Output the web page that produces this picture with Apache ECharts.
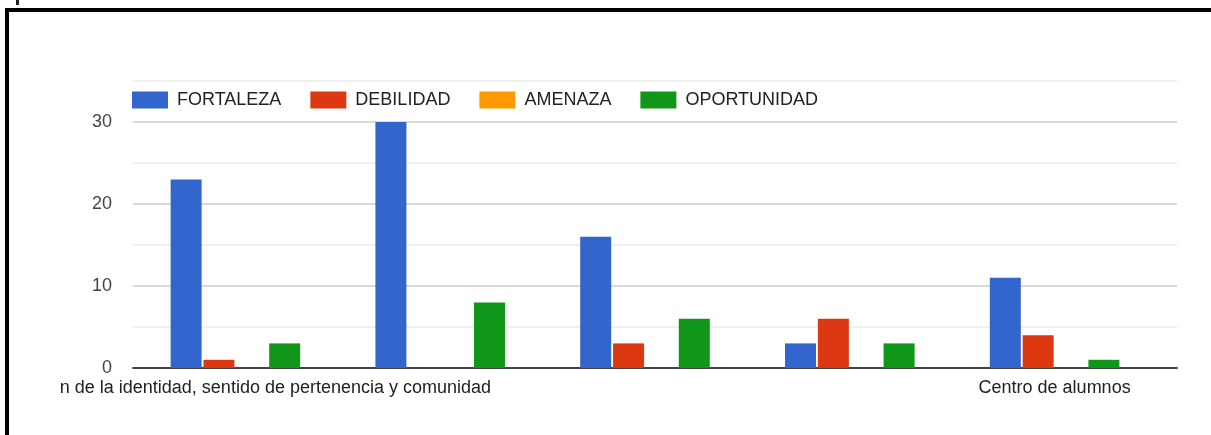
<!DOCTYPE html>
<html>
<head>
<meta charset="utf-8">
<script src="https://cdn.jsdelivr.net/npm/echarts@6/dist/echarts.min.js"></script>
<style>
    html, body { margin: 0; padding: 0; background: #fff; overflow: hidden; }
    #frame { position: absolute; left: 5px; top: 8px; width: 2000px; height: 1000px;
             border-left: 4px solid #000; border-top: 4px solid #000; }
    #mark { position: absolute; left: 16px; top: 0; width: 3px; height: 5px; background: #222; }
    #chart { position: absolute; left: 0; top: 0; width: 1211px; height: 435px; }
</style>
</head>
<body>
<div id="frame"></div>
<div id="mark"></div>
<div id="chart"></div>
<script>
    // datos
    var categorias = ['n de la identidad, sentido de pertenencia y comunidad', '', '', '', 'Centro de alumnos'];
    var fortaleza = [23, 30, 16, 3, 11];
    var debilidad = [1, 0, 3, 6, 4];
    var amenaza = [0, 0, 0, 0, 0];
    var oportunidad = [3, 8, 6, 3, 1];
    var nombres = ['FORTALEZA', 'DEBILIDAD', 'AMENAZA', 'OPORTUNIDAD'];
    var colores = ['#3366cc', '#dc3912', '#ff9900', '#109618'];

    var fuente = 'Arial, "Liberation Sans", sans-serif';
    var myChart = echarts.init(document.getElementById('chart'));

    function serie(nombre, datos, color) {
        return {
            name: nombre,
            type: 'bar',
            xAxisIndex: 0,
            yAxisIndex: 0,
            data: datos,
            barWidth: 31,
            barGap: '6%',
            itemStyle: { color: color },
            emphasis: { disabled: true }
        };
    }

    var option = {
        animation: false,
        color: colores,
        legend: {
            left: 132,
            top: 91,
            padding: 0,
            icon: 'rect',
            itemWidth: 36,
            itemHeight: 17,
            itemGap: 29,
            data: nombres,
            textStyle: { color: '#222', fontSize: 18, fontFamily: fuente, padding: [0, 0, 0, 4] }
        },
        grid: [
            { left: 133, top: 81, width: 1024, height: 287 },
            { left: 133, top: 81, width: 1044, height: 287 }
        ],
        xAxis: [
            {
                type: 'category',
                gridIndex: 0,
                data: categorias,
                axisLine: { show: false },
                axisTick: { show: false },
                axisLabel: {
                    interval: 0,
                    margin: 11,
                    color: '#222',
                    fontSize: 18,
                    fontFamily: fuente,
                    formatter: function (v, i) {
                        return i === 0 ? '{primero|' + v + '}' : v;
                    },
                    rich: {
                        primero: { fontSize: 18, fontFamily: fuente, color: '#222', padding: [0, 0, 0, 80] }
                    }
                }
            },
            {
                type: 'value',
                gridIndex: 1,
                min: 0,
                max: 1,
                axisLine: { show: true, lineStyle: { color: '#444', width: 2 } },
                axisTick: { show: false },
                axisLabel: { show: false },
                splitLine: { show: false }
            }
        ],
        yAxis: [
            {
                type: 'value',
                gridIndex: 0,
                min: 0,
                max: 35,
                interval: 5,
                show: false
            },
            {
                type: 'value',
                gridIndex: 1,
                min: 0,
                max: 35,
                interval: 5,
                axisLine: { show: false },
                axisTick: { show: false },
                axisLabel: {
                    margin: 21,
                    color: '#444',
                    fontSize: 18,
                    fontFamily: fuente,
                    formatter: function (v) {
                        return v % 10 === 0 ? String(v) : '';
                    }
                },
                splitLine: { show: true, lineStyle: { color: ['#cccccc', '#ebebeb'], width: 1.5 } }
            }
        ],
        series: [
            serie(nombres[0], fortaleza, colores[0]),
            serie(nombres[1], debilidad, colores[1]),
            serie(nombres[2], amenaza, colores[2]),
            serie(nombres[3], oportunidad, colores[3])
        ]
    };
    option && myChart.setOption(option);
</script>
</body>
</html>
